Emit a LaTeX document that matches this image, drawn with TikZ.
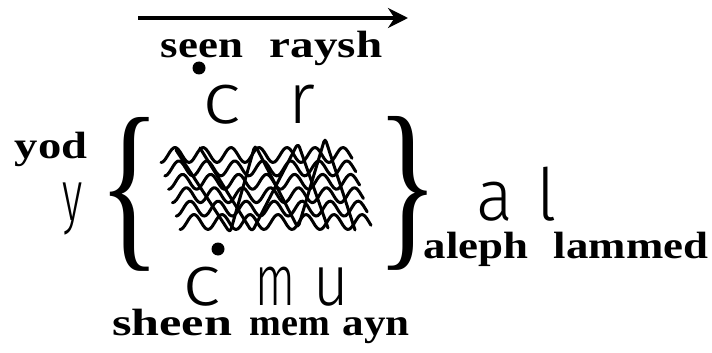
\documentclass[tikz,border=0pt]{standalone}
\usepackage{fontspec}
\setmainfont{Liberation Serif}
\newfontfamily\thinfont{Fira Sans Light}
\usetikzlibrary{arrows.meta}

\begin{document}
\begin{tikzpicture}[x=1pt,y=-1pt,inner sep=0pt,
  lbl/.style={font=\fontsize{38}{38}\selectfont\bfseries,xscale=1.18,anchor=base},
  ltr/.style={font=\fontsize{72}{72}\selectfont\thinfont,anchor=base},
  brc/.style={font=\fontsize{186}{186}\selectfont,xscale=0.7},
  wave/.style={line width=3pt,line cap=round,line join=round}]
\useasboundingbox (0,0) rectangle (712,353);
% direction of reading
\coordinate (arrL) at (138,18);
\coordinate (arrR) at (408,18);
\draw[-{Stealth[length=20pt,width=20pt]},line width=4.5pt] (arrL) -- (arrR);
% letter names
\node[lbl] (seen) at (202,58) {seen};
\node[lbl,xscale=1.05] (raysh) at (326,58) {raysh};
\node[lbl,xscale=1.04] (yod) at (51,158) {yod};
\node[lbl,xscale=1.12] (sheen) at (172,335) {sheen};
\node[lbl,xscale=0.85] (mem) at (290,335) {mem};
\node[lbl,xscale=0.96] (ayn) at (376,335) {ayn};
\node[lbl] (aleph) at (476,258) {aleph};
\node[lbl] (lammed) at (631,258) {lammed};
% letters
\node[ltr,xscale=1.15] (c1) at (222,123) {c};
\node[ltr] (r) at (302,123) {r};
\node[ltr,xscale=0.6] (y) at (73,220) {y};
\node[ltr,xscale=1.15] (c2) at (202,305) {c};
\node[ltr,xscale=0.65] (m) at (275,305) {m};
\node[ltr,xscale=0.85] (u) at (331,305) {u};
\node[ltr,xscale=0.95] (a) at (495,220) {a};
\node[ltr] (l) at (547,220) {l};
\fill (199,68) circle (6.5pt);
\fill (218,249) circle (6.5pt);
% braces
\node[brc] (lbrace) at (130,194) {\{};
\node[brc] (rbrace) at (408,193) {\}};
% waves
\foreach \k in {0,...,5}
  \draw[wave] plot[domain=0:191,samples=90,smooth,variable=\t]
    ({161+3.8*\k+\t},{155+13.4*\k+7.5*cos(\t/28*360)});
\draw[wave,rounded corners=4pt]
  (176,150) -- (230,233) -- (255,145) -- (298,228) -- (325,138) -- (355,230);
\draw[wave,rounded corners=4pt]
  (200,148) -- (252,232) -- (298,143) -- (328,228);
\end{tikzpicture}
\end{document}
